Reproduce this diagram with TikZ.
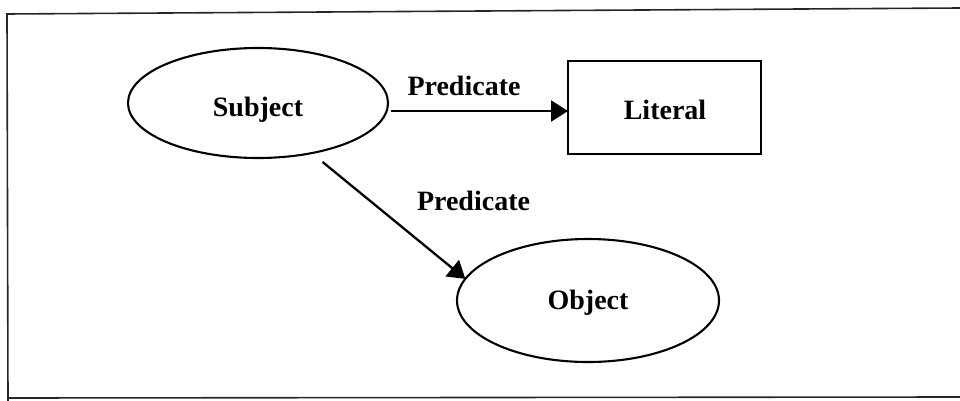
\documentclass[tikz,border=0pt]{standalone}
\usepackage{fontspec}
\setmainfont{Liberation Serif}
\usetikzlibrary{arrows.meta,shapes.geometric}
\begin{document}
\begin{tikzpicture}[x=1pt,y=-1pt,
  frameline/.style={line width=1.6pt,draw=black!85},
  shapeline/.style={line width=2.1pt,draw=black},
  ovalnode/.style={ellipse,shapeline,inner sep=0pt,outer sep=0pt},
  boxnode/.style={rectangle,shapeline,inner sep=0pt,outer sep=0pt},
  lbl/.style={font=\fontsize{28}{33}\selectfont\bfseries,inner sep=0pt},
  arr/.style={line width=2.3pt,-{Triangle[length=17pt,width=21pt]}}]
\useasboundingbox (0,0) rectangle (960,401);
% page frame, open on the right
\draw[frameline] (960,8) -- (7,14) -- (8,401);
\draw[frameline] (7,398) -- (960,397);
% resources
\node[ovalnode,minimum width=260pt,minimum height=110pt] (subj) at (258,103) {};
\node[ovalnode,minimum width=262pt,minimum height=123pt] (obj) at (588,300.5) {};
\node[boxnode,minimum width=193pt,minimum height=93pt] (lit) at (664.5,107.5) {};
% labels
\node[lbl] (subjtxt) at (258,110) {Subject};
\node[lbl] (objtxt) at (588,303) {Object};
\node[lbl] (littxt) at (665,110) {Literal};
\node[lbl] (pred1) at (464,86) {Predicate};
\node[lbl] (pred2) at (473.5,201) {Predicate};
% statements
\draw[arr] ([xshift=3pt,yshift=-8pt]subj.east) -- ([yshift=-3.5pt]lit.west);
\draw[arr,shorten <=14pt] (subj.-43) -- (obj.170);
\end{tikzpicture}
\end{document}
